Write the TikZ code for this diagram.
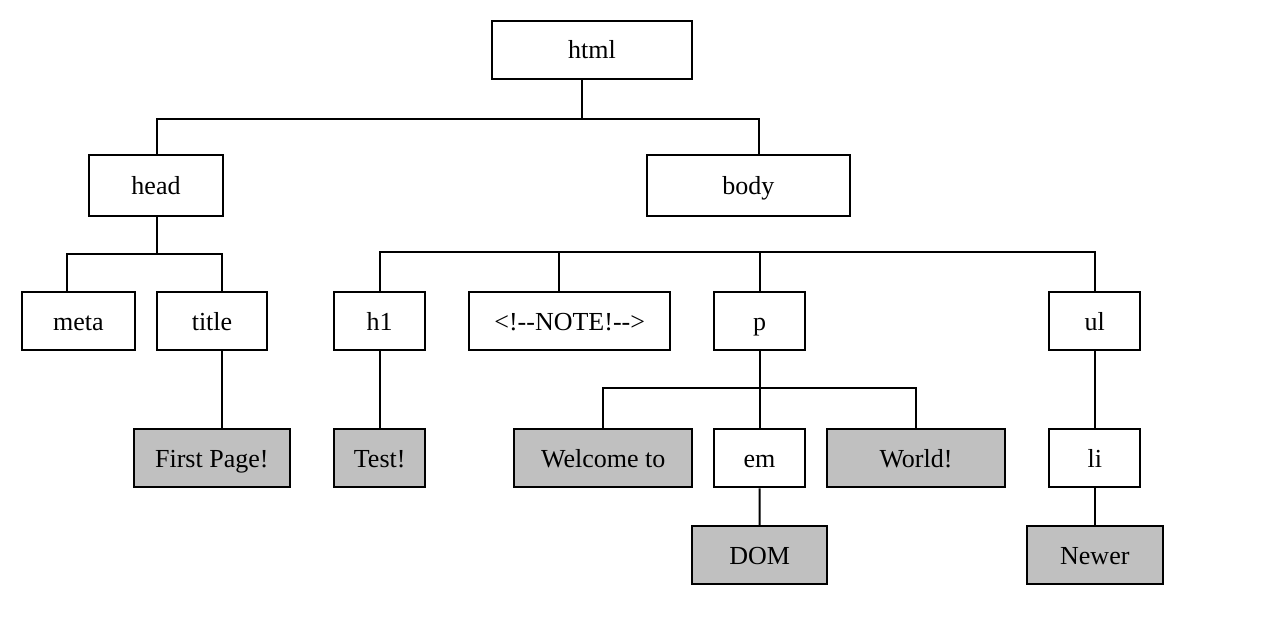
\documentclass[tikz,border=0pt]{standalone}
\usepackage{fontspec}
\setmainfont{Liberation Serif}
\definecolor{leafgray}{RGB}{192,192,192}
\begin{document}
\begin{tikzpicture}[x=0.5pt, y=-0.5pt, line width=1pt,
	tag/.style={draw, inner sep=0pt, text height=11pt, text depth=2pt, font=\fontsize{13}{15}\selectfont},
	leaf/.style={tag, fill=leafgray}]
		\useasboundingbox[fill=white] (0,0) rectangle (1262,628);
		\node[tag, minimum width=100.3pt, minimum height=29pt] at (592,49.7) (html) {html};
		\node[tag, minimum width=67pt, minimum height=30.3pt] at (156,185.3) (head) {head};
		\node[tag, minimum width=101.3pt, minimum height=30.3pt] at (748.3,185.3) (body) {body};
		\node[tag, minimum width=56.7pt, minimum height=28.9pt] at (78.3,321.2) (meta) {meta};
		\node[tag, minimum width=55.3pt, minimum height=28.9pt] at (212,321.2) (title) {title};
		\node[tag, minimum width=45.3pt, minimum height=28.9pt] at (379.7,321.2) (h1) {h1};
		\node[tag, minimum width=100.3pt, minimum height=28.9pt] at (569.7,321.2) (note) {<!-{}-NOTE!-{}->};
		\node[tag, minimum width=45.2pt, minimum height=28.9pt] at (759.5,321.2) (p) {p};
		\node[tag, minimum width=45.5pt, minimum height=28.9pt] at (1094.8,321.2) (ul) {ul};
		\node[leaf, minimum width=77.8pt, minimum height=29.2pt] at (211.8,458.2) (firstpage) {First Page!};
		\node[leaf, minimum width=45.3pt, minimum height=29.2pt] at (379.7,458.2) (test) {Test!};
		\node[leaf, minimum width=89.2pt, minimum height=29.2pt] at (603.2,458.2) (welcome) {Welcome to};
		\node[tag, minimum width=45.2pt, minimum height=29.2pt] at (759.5,458.2) (em) {em};
		\node[leaf, minimum width=89pt, minimum height=29.2pt] at (916,458.2) (world) {World!};
		\node[tag, minimum width=45.5pt, minimum height=29.2pt] at (1094.8,458.2) (li) {li};
		\node[leaf, minimum width=67.7pt, minimum height=29pt] at (759.7,555.3) (dom) {DOM};
		\node[leaf, minimum width=67.8pt, minimum height=29pt] at (1094.8,555.3) (newer) {Newer};
		\draw ([xshift=-5pt]html.south) -- ++(0,39) coordinate (htmlbus);
		\draw ([xshift=0.5pt]head.north) |- (htmlbus) -| ([xshift=5.5pt]body.north);
		\draw ([xshift=0.5pt]head.south) -- ++(0,37.6) coordinate (headbus);
		\draw ([xshift=-5.8pt]meta.north) |- (headbus) -| ([xshift=5.2pt]title.north);
		\draw ([xshift=5.2pt]title.south) -- ([xshift=5.2pt]title.south |- firstpage.north);
		\draw (h1.north) -- ++(0,-39) -| (ul.north);
		\draw ([xshift=-5.2pt]note.north) -- ++(0,-39);
		\draw (p.north) -- ++(0,-39);
		\draw (h1.south) -- (test.north);
		\draw (p.south) -- (em.north);
		\draw (welcome.north) -- ++(0,-39.7) -| (world.north);
		\draw (em.south) -- (dom.north);
		\draw (ul.south) -- (li.north);
		\draw (li.south) -- (newer.north);
\end{tikzpicture}
\end{document}
